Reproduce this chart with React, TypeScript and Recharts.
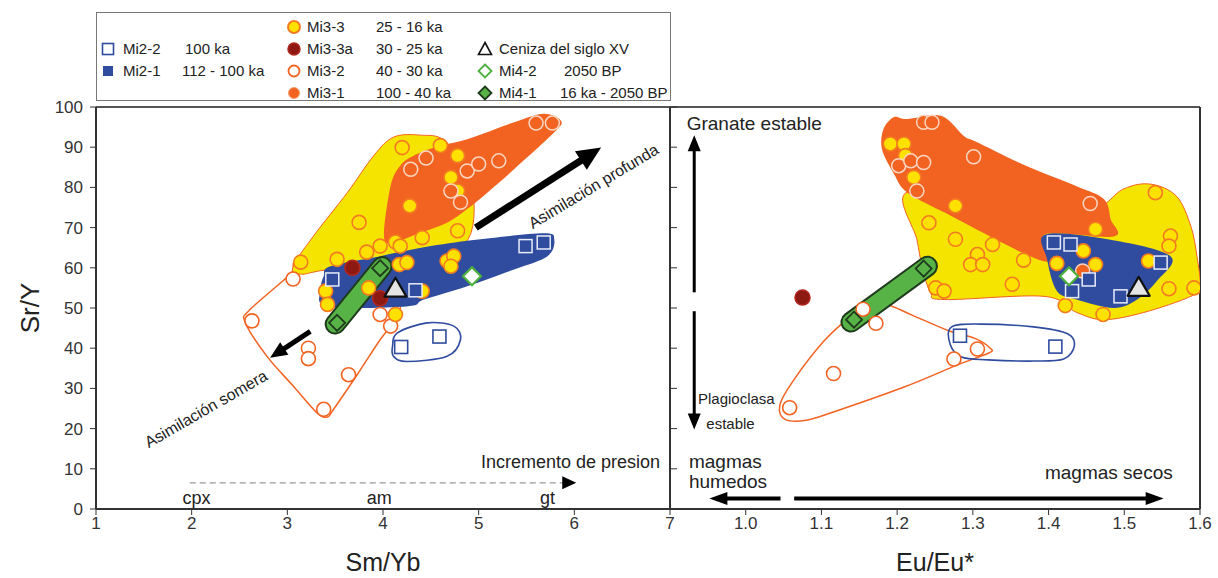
import React from 'react';
import { ScatterChart, Scatter, XAxis, YAxis, ReferenceLine, ReferenceDot } from 'recharts';

type Pt = { x: number; y: number };
const pts = (list: number[][]): Pt[] => list.map(([x, y]) => ({ x, y }));

// ---- axes ----
const smYbTicks = [1, 2, 3, 4, 5, 6, 7];
const euTicks = [1.0, 1.1, 1.2, 1.3, 1.4, 1.5, 1.6];
const srYTicks = [0, 10, 20, 30, 40, 50, 60, 70, 80, 90, 100];

// ---- Sm/Yb panel: samples ----
const mi33Left = pts([[4.6, 90.4], [4.78, 87.9], [4.71, 82.5], [4.78, 79.1], [4.28, 75.4], [4.2, 89.9], [3.75, 71.3], [4.41, 67.5], [4.78, 69.2], [3.14, 61.4], [3.52, 62.1], [3.83, 63.9], [3.97, 65.4], [4.13, 66.4], [4.18, 65.4], [4.17, 60.8], [4.25, 61.3], [4.67, 61.7], [4.74, 62.9], [4.71, 60.4], [4.41, 54.2], [3.85, 55.0], [3.4, 54.2], [3.42, 50.9], [4.13, 48.4]]);
const mi31Left = pts([[5.6, 96.0], [5.77, 96.0], [4.29, 84.5], [4.45, 87.3], [4.88, 84.1], [5.0, 85.8], [5.21, 86.6], [4.71, 79.1], [4.81, 76.3]]);
const mi33aLeft = pts([[3.68, 60.0], [3.97, 52.4]]);
const mi32Left = pts([[3.06, 57.2], [2.63, 46.8], [3.22, 40.0], [3.22, 37.4], [3.64, 33.4], [3.38, 24.8], [3.97, 48.4], [4.08, 45.5]]);
const mi22Left = pts([[4.19, 40.3], [4.59, 42.9]]);
const mi21Left = pts([[3.47, 57.1], [4.34, 54.4], [5.49, 65.4], [5.68, 66.3]]);
const mi42Left = pts([[4.93, 57.9]]);
const mi41Left = pts([[3.52, 46.3], [3.97, 59.9]]);
const ashLeft = pts([[4.13, 54.8]]);

// ---- Sm/Yb panel: fields ----
const yellowFieldLeft = pts([[3.06, 60.3], [3.27, 67.8], [3.63, 78.8], [3.9, 87.8], [4.11, 92.5], [4.39, 93.0], [4.65, 91.5], [4.92, 82.0], [4.89, 67.1], [4.39, 61.6], [3.45, 59.6], [3.14, 58.4]]);
const orangeFieldLeft = pts([[4.01, 67.9], [4.08, 80.4], [4.18, 85.4], [4.32, 87.9], [4.6, 90.4], [4.88, 92.0], [5.37, 96.2], [5.68, 98.3], [5.86, 96.6], [5.79, 93.7], [5.37, 84.5], [5.09, 78.7], [4.88, 74.6], [4.67, 71.2], [4.39, 68.7], [4.11, 66.3]]);
const blueFieldLeft = pts([[3.38, 57.9], [3.45, 60.4], [3.97, 62.9], [4.5, 65.4], [5.02, 67.1], [5.68, 68.6], [5.79, 67.1], [5.72, 62.9], [5.37, 59.6], [4.88, 55.4], [4.43, 52.1], [4.25, 50.4], [3.42, 50.4], [3.35, 54.6]]);
const mi32FieldLeft = pts([[3.1, 61.3], [3.03, 58.4], [2.61, 49.6], [2.56, 46.4], [2.79, 37.9], [3.05, 30.9], [3.31, 23.9], [3.42, 22.9], [3.48, 24.7], [3.73, 33.4], [3.97, 42.1], [4.13, 47.1], [4.18, 50.9], [4.08, 57.1], [3.56, 59.6]]);
const mi22FieldLeft = pts([[4.1, 40.5], [4.15, 43.8], [4.46, 46.3], [4.74, 45.5], [4.81, 42.1], [4.67, 38.0], [4.25, 36.7], [4.11, 38.0]]);
const greenBarLeft = pts([[3.5, 46.0], [3.99, 60.3]]);

// ---- Eu/Eu* panel: samples ----
const mi33Right = pts([[1.191, 90.8], [1.209, 90.8], [1.211, 87.9], [1.222, 82.5], [1.277, 75.4], [1.242, 71.2], [1.277, 67.1], [1.326, 65.8], [1.306, 63.3], [1.297, 60.8], [1.313, 60.8], [1.367, 61.9], [1.352, 55.9], [1.251, 55.0], [1.262, 54.2], [1.462, 69.6], [1.446, 64.2], [1.462, 60.8], [1.411, 61.1], [1.532, 61.7], [1.541, 78.7], [1.561, 67.9], [1.559, 65.4], [1.559, 54.8], [1.592, 55.0], [1.422, 50.6], [1.472, 48.4]]);
const mi31Right = pts([[1.235, 96.2], [1.246, 96.2], [1.202, 85.4], [1.218, 86.6], [1.235, 86.2], [1.226, 79.1], [1.301, 87.6], [1.455, 76.0], [1.445, 59.2]]);
const mi33aRight = pts([[1.075, 52.6]]);
const mi32Right = pts([[1.155, 49.7], [1.172, 46.2], [1.116, 33.7], [1.058, 25.2], [1.275, 37.3], [1.306, 39.8]]);
const mi22Right = pts([[1.283, 43.1], [1.409, 40.4]]);
const mi21Right = pts([[1.407, 66.3], [1.429, 65.8], [1.453, 57.1], [1.431, 54.2], [1.495, 52.9], [1.548, 61.3]]);
const mi42Right = pts([[1.427, 57.9]]);
const mi41Right = pts([[1.143, 47.1], [1.235, 59.8]]);
const ashRight = pts([[1.519, 55.0]]);

// ---- Eu/Eu* panel: fields ----
const yellowFieldRight = pts([[1.213, 78.8], [1.226, 67.1], [1.233, 60.3], [1.244, 53.9], [1.262, 52.1], [1.394, 52.9], [1.437, 48.9], [1.473, 47.1], [1.526, 48.9], [1.588, 52.9], [1.6, 55.4], [1.596, 62.8], [1.588, 70.3], [1.569, 77.8], [1.535, 80.8], [1.499, 79.6], [1.45, 74.0], [1.33, 75.0]]);
const orangeFieldRight = pts([[1.213, 97.0], [1.258, 97.8], [1.288, 92.8], [1.305, 91.3], [1.371, 85.3], [1.437, 80.3], [1.473, 77.1], [1.482, 72.1], [1.486, 67.8], [1.395, 68.3], [1.394, 61.6], [1.262, 73.8], [1.213, 78.8], [1.196, 83.3], [1.18, 89.5], [1.182, 94.5], [1.196, 97.5]]);
const blueFieldRight = pts([[1.396, 68.3], [1.478, 67.1], [1.561, 62.9], [1.543, 56.7], [1.517, 52.1], [1.486, 50.0], [1.437, 52.1], [1.411, 54.2], [1.398, 62.1]]);
const mi32FieldRight = pts([[1.045, 25.8], [1.062, 31.7], [1.103, 41.7], [1.136, 47.5], [1.163, 50.8], [1.187, 50.8], [1.219, 48.3], [1.27, 44.2], [1.302, 42.5], [1.323, 40.0], [1.321, 38.8], [1.279, 35.8], [1.21, 30.4], [1.117, 24.2], [1.08, 22.1], [1.052, 22.3]]);
const mi22FieldRight = pts([[1.272, 45.3], [1.31, 46.0], [1.38, 45.3], [1.425, 43.6], [1.434, 40.6], [1.42, 37.3], [1.38, 36.8], [1.32, 37.1], [1.285, 37.8], [1.27, 41.0]]);
const greenBarRight = pts([[1.139, 46.5], [1.24, 60.4]]);

// ---- colours ----
const FONT = '"Liberation Sans", Arial, Helvetica, sans-serif';
const AXIS = '#333';
const YELLOW = '#f5e400';
const ORANGE = '#f26322';
const BLUE = '#2f4c9f';
const GREEN = '#58b347';
const DKGREEN = '#1f3a1c';
const DKRED = '#8c1a12';
const PT_YELLOW = '#ffe100';
const PT_EDGE = '#f47b20';

// closed Catmull-Rom curve so the fields come out rounded
const smoothClosed = (context: any) => {
  let p: number[][] = [];
  return {
    areaStart() {},
    areaEnd() {},
    lineStart() { p = []; },
    point(x: number, y: number) { p.push([+x, +y]); },
    lineEnd() {
      const n = p.length;
      if (!n) return;
      context.moveTo(p[0][0], p[0][1]);
      for (let i = 0; i < n; i++) {
        const a = p[(i - 1 + n) % n], b = p[i], c = p[(i + 1) % n], d = p[(i + 2) % n];
        context.bezierCurveTo(
          b[0] + (c[0] - a[0]) / 6, b[1] + (c[1] - a[1]) / 6,
          c[0] - (d[0] - b[0]) / 6, c[1] - (d[1] - b[1]) / 6,
          c[0], c[1]
        );
      }
      context.closePath();
    },
  };
};

// ---- marker shapes ----
const noDot = () => <g />;
const dot = (fill: string, stroke: string, r = 7, sw = 1.6) => (p: any) => (
  <circle cx={p.cx} cy={p.cy} r={r} fill={fill} stroke={stroke} strokeWidth={sw} />
);
const box = (fill: string, stroke: string, s = 13, sw = 1.6) => (p: any) => (
  <rect x={p.cx - s / 2} y={p.cy - s / 2} width={s} height={s} fill={fill} stroke={stroke} strokeWidth={sw} />
);
const rhomb = (fill: string, stroke: string, s = 9, sw = 2) => (p: any) => (
  <polygon points={`${p.cx},${p.cy - s} ${p.cx + s},${p.cy} ${p.cx},${p.cy + s} ${p.cx - s},${p.cy}`} fill={fill} stroke={stroke} strokeWidth={sw} />
);
const tri = (p: any) => {
  const s = 11;
  return <polygon points={`${p.cx},${p.cy - s} ${p.cx + s},${p.cy + s * 0.72} ${p.cx - s},${p.cy + s * 0.72}`} fill="#e4e4e4" stroke="#111" strokeWidth={2.2} strokeLinejoin="round" />;
};

const field = (key: string, data: Pt[], fill: string, stroke = 'none', sw = 1) => (
  <Scatter key={key} data={data} shape={noDot} line={{ fill, stroke, strokeWidth: sw }} lineJointType={smoothClosed as any} isAnimationActive={false} legendType="none" />
);
const samples = (key: string, data: Pt[], shape: any) => (
  <Scatter key={key} data={data} shape={shape} isAnimationActive={false} legendType="none" />
);
const greenBar = (key: string, data: Pt[]) => [
  <Scatter key={key + 'o'} data={data} shape={noDot} line={{ stroke: DKGREEN, strokeWidth: 21, strokeLinecap: 'round', fill: 'none' }} isAnimationActive={false} legendType="none" />,
  <Scatter key={key + 'i'} data={data} shape={noDot} line={{ stroke: GREEN, strokeWidth: 17, strokeLinecap: 'round', fill: 'none' }} isAnimationActive={false} legendType="none" />,
];

const makeArrow = (w: number, head: number, headW: number, dashed = false) => (p: any) => {
  const { x1, y1, x2, y2 } = p;
  const dx = x2 - x1, dy = y2 - y1, len = Math.hypot(dx, dy) || 1;
  const ux = dx / len, uy = dy / len, nx = -uy, ny = ux;
  const bx = x2 - ux * head, by = y2 - uy * head;
  return (
    <g>
      <line x1={x1} y1={y1} x2={bx + ux * 2} y2={by + uy * 2} stroke={dashed ? '#999' : '#000'} strokeWidth={w} strokeDasharray={dashed ? '6 4' : undefined} />
      <polygon points={`${x2},${y2} ${bx + (nx * headW) / 2},${by + (ny * headW) / 2} ${bx - (nx * headW) / 2},${by - (ny * headW) / 2}`} fill="#000" />
    </g>
  );
};
const arrow = (key: string, from: number[], to: number[], w: number, head: number, headW: number, dashed = false) => (
  <ReferenceLine key={key} segment={[{ x: from[0], y: from[1] }, { x: to[0], y: to[1] }]} ifOverflow="visible" shape={makeArrow(w, head, headW, dashed)} />
);

type Note = { text: string; x: number; y: number; size: number; angle?: number; anchor?: string };
const note = (key: string, n: Note) => (
  <ReferenceDot key={key} x={n.x} y={n.y} r={0} ifOverflow="visible" shape={(p: any) => (
    <text x={p.cx} y={p.cy} fontSize={n.size} fill="#222" textAnchor={n.anchor || 'middle'} dominantBaseline="central" transform={n.angle ? `rotate(${n.angle} ${p.cx} ${p.cy})` : undefined}>{n.text}</text>
  )} />
);

const leftNotes: Note[] = [
  { text: 'Asimilación profunda', x: 6.2, y: 80.3, size: 16, angle: -31 },
  { text: 'Asimilación somera', x: 2.15, y: 24.9, size: 16, angle: -30 },
  { text: 'Incremento de presion', x: 5.96, y: 11.8, size: 18 },
  { text: 'cpx', x: 2.05, y: 2.8, size: 18 },
  { text: 'am', x: 3.96, y: 2.8, size: 18 },
  { text: 'gt', x: 5.72, y: 2.8, size: 18 },
];
const rightNotes: Note[] = [
  { text: 'Granate estable', x: 0.922, y: 95.8, size: 19, anchor: 'start' },
  { text: 'Plagioclasa', x: 0.937, y: 27.6, size: 15, anchor: 'start' },
  { text: 'estable', x: 0.948, y: 21.2, size: 15, anchor: 'start' },
  { text: 'magmas', x: 0.925, y: 11.8, size: 19, anchor: 'start' },
  { text: 'humedos', x: 0.925, y: 6.8, size: 19, anchor: 'start' },
  { text: 'magmas secos', x: 1.564, y: 9.0, size: 19, anchor: 'end' },
];

const tickStyle = { fontSize: 17, fill: '#333' };

// ---- legend ----
const LegendIcon = ({ kind }: { kind: string }) => {
  const c = { cx: 8, cy: 8 };
  let el: any = null;
  if (kind === 'mi22') el = box('#fff', BLUE, 11, 1.6)(c);
  if (kind === 'mi21') el = box(BLUE, BLUE, 9, 1)(c);
  if (kind === 'mi33') el = dot(PT_YELLOW, PT_EDGE, 6, 2)(c);
  if (kind === 'mi33a') el = dot(DKRED, '#b3261e', 6, 1.5)(c);
  if (kind === 'mi32') el = dot('#fff', ORANGE, 5.5, 1.8)(c);
  if (kind === 'mi31') el = dot(ORANGE, '#f7a070', 5.5, 1)(c);
  if (kind === 'ash') el = <polygon points="8,1.5 14.5,13.5 1.5,13.5" fill="#fff" stroke="#111" strokeWidth={1.6} />;
  if (kind === 'mi42') el = rhomb('#fff', '#4cb03c', 6.5, 1.8)(c);
  if (kind === 'mi41') el = rhomb(GREEN, DKGREEN, 6.5, 1.8)(c);
  return <svg width={16} height={16} style={{ position: 'absolute', left: -8, top: -8 }}>{el}</svg>;
};

const legendRows = [
  { kind: 'mi22', name: 'Mi2-2', age: '100 ka', ix: 11, nx: 26, ax: 88, y: 36 },
  { kind: 'mi21', name: 'Mi2-1', age: '112 - 100 ka', ix: 11, nx: 26, ax: 85, y: 58 },
  { kind: 'mi33', name: 'Mi3-3', age: '25 - 16 ka', ix: 197, nx: 210, ax: 279, y: 14 },
  { kind: 'mi33a', name: 'Mi3-3a', age: '30 - 25 ka', ix: 197, nx: 210, ax: 279, y: 36 },
  { kind: 'mi32', name: 'Mi3-2', age: '40 - 30 ka', ix: 197, nx: 210, ax: 279, y: 58 },
  { kind: 'mi31', name: 'Mi3-1', age: '100 - 40 ka', ix: 197, nx: 210, ax: 279, y: 80 },
  { kind: 'ash', name: 'Ceniza del siglo XV', age: '', ix: 388, nx: 402, ax: 0, y: 36 },
  { kind: 'mi42', name: 'Mi4-2', age: '2050 BP', ix: 388, nx: 402, ax: 467, y: 58 },
  { kind: 'mi41', name: 'Mi4-1', age: '16 ka - 2050 BP', ix: 388, nx: 402, ax: 463, y: 80 },
];

const Legend = () => (
  <div style={{ position: 'absolute', left: 96, top: 12, width: 575, height: 89, border: '1.5px solid #777', boxSizing: 'border-box', background: '#fff', fontSize: 15, color: '#222' }}>
    {legendRows.map((r) => (
      <React.Fragment key={r.kind}>
        <div style={{ position: 'absolute', left: r.ix, top: r.y }}><LegendIcon kind={r.kind} /></div>
        <div style={{ position: 'absolute', left: r.nx, top: r.y - 9, lineHeight: '18px', whiteSpace: 'nowrap' }}>{r.name}</div>
        {r.age && <div style={{ position: 'absolute', left: r.ax, top: r.y - 9, lineHeight: '18px', whiteSpace: 'nowrap' }}>{r.age}</div>}
      </React.Fragment>
    ))}
  </div>
);

export default function App() {
  return (
    <div style={{ position: 'absolute', left: 0, top: 0, width: 1218, height: 578, background: '#fff', fontFamily: FONT, overflow: 'hidden' }}>
      <div style={{ position: 'absolute', left: 0, top: 0 }}>
        <ScatterChart width={700} height={578} margin={{ top: 107, right: 30, bottom: 29, left: 40 }}>
          <XAxis type="number" dataKey="x" domain={[1, 7]} ticks={smYbTicks} allowDataOverflow height={40} tick={tickStyle} tickSize={6} tickLine={{ stroke: AXIS }} axisLine={{ stroke: AXIS, strokeWidth: 2 }}
            label={{ value: 'Sm/Yb', position: 'bottom', offset: 4, style: { fontSize: 25, fill: '#222' } }} />
          <YAxis type="number" dataKey="y" domain={[0, 100]} ticks={srYTicks} allowDataOverflow width={56} tick={tickStyle} tickSize={6} tickMargin={7} tickLine={{ stroke: AXIS }} axisLine={{ stroke: AXIS, strokeWidth: 2 }}
            label={{ value: 'Sr/Y', angle: -90, position: 'left', offset: 10, style: { fontSize: 26, fill: '#222', textAnchor: 'middle' } }} />
          <ReferenceLine y={100} stroke="#555" strokeWidth={2} />
          <ReferenceLine x={7} stroke="#333" strokeWidth={2} />
          {field('mi32f', mi32FieldLeft, 'none', ORANGE, 1.5)}
          {field('mi22f', mi22FieldLeft, 'none', BLUE, 1.6)}
          {field('yf', yellowFieldLeft, YELLOW, ORANGE, 1)}
          {field('of', orangeFieldLeft, ORANGE)}
          {field('bf', blueFieldLeft, BLUE)}
          {greenBar('gb', greenBarLeft)}
          {arrow('deep', [4.97, 70.0], [6.28, 89.9], 7, 24, 22)}
          {arrow('shallow', [3.24, 44.2], [2.82, 37.6], 5, 17, 15)}
          {arrow('press', [1.98, 6.5], [6.02, 6.5], 1.3, 14, 13, true)}
          {samples('mi32', mi32Left, dot('#fff', ORANGE))}
          {samples('mi33', mi33Left, dot(PT_YELLOW, PT_EDGE))}
          {samples('mi31', mi31Left, dot(ORANGE, '#fbd6c2', 7, 1.5))}
          {samples('mi22', mi22Left, box('#fff', BLUE))}
          {samples('mi21', mi21Left, box(BLUE, '#e8ecf8', 13, 1.5))}
          {samples('mi33a', mi33aLeft, dot(DKRED, '#b3261e', 7.5, 1.5))}
          {samples('mi42', mi42Left, rhomb('#fff', '#4cb03c', 9, 2.2))}
          {samples('mi41', mi41Left, rhomb(GREEN, DKGREEN, 8, 1.8))}
          {samples('ash', ashLeft, tri)}
          {leftNotes.map((n, i) => note('ln' + i, n))}
        </ScatterChart>
      </div>
      <div style={{ position: 'absolute', left: 560, top: 0 }}>
        <ScatterChart width={658} height={578} margin={{ top: 107, right: 18, bottom: 29, left: 110 }}>
          <XAxis type="number" dataKey="x" domain={[0.9, 1.6]} ticks={euTicks} allowDataOverflow height={40} tick={tickStyle} tickSize={6} tickFormatter={(v: number) => v.toFixed(1)} tickLine={{ stroke: AXIS }} axisLine={{ stroke: AXIS, strokeWidth: 2 }}
            label={{ value: 'Eu/Eu*', position: 'bottom', offset: 4, style: { fontSize: 25, fill: '#222' } }} />
          <YAxis type="number" dataKey="y" domain={[0, 100]} ticks={srYTicks} allowDataOverflow width={10} mirror tick={noDot} tickSize={7} tickLine={{ stroke: AXIS }} axisLine={{ stroke: AXIS, strokeWidth: 2 }} />
          <ReferenceLine y={100} stroke="#555" strokeWidth={2} />
          <ReferenceLine x={1.6} stroke="#333" strokeWidth={2} />
          {field('mi32f', mi32FieldRight, 'none', ORANGE, 1.5)}
          {field('mi22f', mi22FieldRight, 'none', BLUE, 1.6)}
          {field('yf', yellowFieldRight, YELLOW, ORANGE, 1)}
          {field('of', orangeFieldRight, ORANGE)}
          {field('bf', blueFieldRight, BLUE)}
          {greenBar('gb', greenBarRight)}
          {arrow('up', [0.932, 53.9], [0.932, 93.0], 3, 16, 13)}
          {arrow('down', [0.932, 49.2], [0.932, 19.8], 3, 16, 13)}
          {arrow('wet', [1.046, 2.6], [0.952, 2.6], 4, 18, 13)}
          {arrow('dry', [1.064, 2.6], [1.552, 2.6], 4, 18, 13)}
          {samples('mi32', mi32Right, dot('#fff', ORANGE))}
          {samples('mi33', mi33Right, dot(PT_YELLOW, PT_EDGE))}
          {samples('mi31', mi31Right, dot(ORANGE, '#fbd6c2', 7, 1.5))}
          {samples('mi22', mi22Right, box('#fff', BLUE))}
          {samples('mi21', mi21Right, box(BLUE, '#e8ecf8', 13, 1.5))}
          {samples('mi33a', mi33aRight, dot(DKRED, '#b3261e', 7.5, 1.5))}
          {samples('mi42', mi42Right, rhomb('#fff', '#4cb03c', 9, 2.2))}
          {samples('mi41', mi41Right, rhomb(GREEN, DKGREEN, 8, 1.8))}
          {samples('ash', ashRight, tri)}
          {rightNotes.map((n, i) => note('rn' + i, n))}
        </ScatterChart>
      </div>
      <Legend />
    </div>
  );
}
